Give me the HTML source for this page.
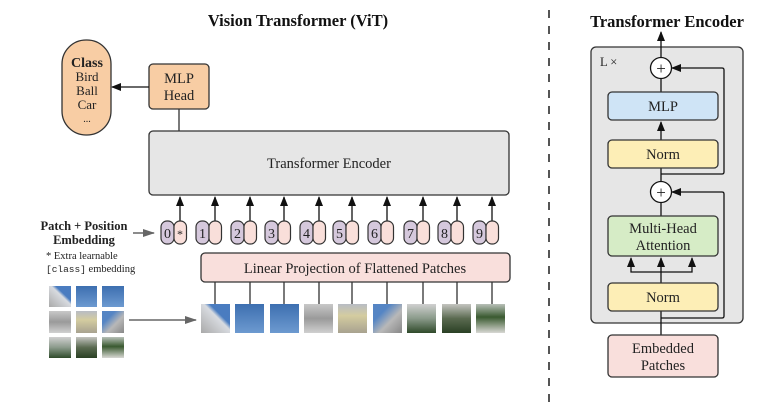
<!DOCTYPE html>
<html><head><meta charset="utf-8"><style>
html,body{margin:0;padding:0;background:#fff}
svg{display:block}
text{font-family:"Liberation Serif",serif;fill:#222}
</style></head><body>
<svg width="759" height="415" viewBox="0 0 759 415" xmlns="http://www.w3.org/2000/svg">
<defs>
<marker id="a" markerWidth="10" markerHeight="8" refX="9" refY="4" orient="auto" markerUnits="userSpaceOnUse" viewBox="0 0 10 8"><path d="M0,0 L10,4 L0,8 Z" fill="#111"/></marker>
<marker id="ar" markerWidth="10" markerHeight="8" refX="9" refY="4" orient="auto" markerUnits="userSpaceOnUse" viewBox="0 0 10 8"><path d="M0,0 L10,4 L0,8 Z" fill="#111"/></marker>
<marker id="ag" markerWidth="12" markerHeight="8" refX="11" refY="4" orient="auto" markerUnits="userSpaceOnUse" viewBox="0 0 12 8"><path d="M0,0 L12,4 L0,8 Z" fill="#666"/></marker>
<linearGradient id="sky" x1="0" y1="0" x2="0" y2="1"><stop offset="0" stop-color="#3d6fb0"/><stop offset="1" stop-color="#6d9ad0"/></linearGradient>
<linearGradient id="b1" x1="1" y1="0" x2="0" y2="1"><stop offset="0.35" stop-color="#4a7cc0"/><stop offset="0.45" stop-color="#d8dbe0"/><stop offset="1" stop-color="#a9a9a9"/></linearGradient>
<linearGradient id="gr" x1="0" y1="0" x2="0" y2="1"><stop offset="0" stop-color="#c8c8c8"/><stop offset="0.5" stop-color="#9a9a9a"/><stop offset="1" stop-color="#d0d0d0"/></linearGradient>
<linearGradient id="ye" x1="0" y1="0" x2="0" y2="1"><stop offset="0" stop-color="#b8bcc4"/><stop offset="0.4" stop-color="#d4cca0"/><stop offset="1" stop-color="#a8a290"/></linearGradient>
<linearGradient id="tw" x1="0" y1="0" x2="1" y2="1"><stop offset="0.3" stop-color="#5585c4"/><stop offset="0.6" stop-color="#b8b8b8"/><stop offset="1" stop-color="#888"/></linearGradient>
<linearGradient id="g1" x1="0" y1="0" x2="0" y2="1"><stop offset="0" stop-color="#d0d0d0"/><stop offset="0.5" stop-color="#8a9a8a"/><stop offset="1" stop-color="#2f4a2a"/></linearGradient>
<linearGradient id="g2" x1="0" y1="0" x2="0" y2="1"><stop offset="0" stop-color="#c4c4c0"/><stop offset="0.5" stop-color="#5a6a50"/><stop offset="1" stop-color="#2a4024"/></linearGradient>
<linearGradient id="g3" x1="0" y1="0" x2="0" y2="1"><stop offset="0" stop-color="#b8c0b8"/><stop offset="0.45" stop-color="#3a5a30"/><stop offset="1" stop-color="#d8d8d4"/></linearGradient>
</defs>

<text x="298" y="26" font-size="16.5" font-weight="bold" text-anchor="middle" style="fill:#111">Vision Transformer (ViT)</text>
<text x="667" y="27" font-size="16.5" font-weight="bold" text-anchor="middle" style="fill:#111">Transformer Encoder</text>

<line x1="549" y1="10" x2="549" y2="402" stroke="#555" stroke-width="2" stroke-dasharray="8,8"/>

<rect x="62" y="40" width="49" height="95" rx="24" fill="#f8cda4" stroke="#333" stroke-width="1.3"/>
<text x="87" y="67" font-size="14" font-weight="bold" text-anchor="middle">Class</text>
<text x="87" y="81" font-size="13" text-anchor="middle">Bird</text>
<text x="87" y="95" font-size="13" text-anchor="middle">Ball</text>
<text x="87" y="109" font-size="13" text-anchor="middle">Car</text>
<text x="87" y="122" font-size="10" text-anchor="middle">...</text>

<rect x="149" y="64" width="60" height="45" rx="4" fill="#f8cda4" stroke="#333" stroke-width="1.3"/>
<text x="179" y="83" font-size="14.5" text-anchor="middle">MLP</text>
<text x="179" y="100" font-size="14.5" text-anchor="middle">Head</text>
<line x1="149" y1="87" x2="112" y2="87" stroke="#111" stroke-width="1.3" marker-end="url(#ar)"/>
<line x1="179" y1="109" x2="179" y2="131" stroke="#333" stroke-width="1.3"/>

<rect x="149" y="131" width="360" height="64" rx="4" fill="#e6e6e6" stroke="#333" stroke-width="1.3"/>
<text x="329" y="168" font-size="14.5" text-anchor="middle">Transformer Encoder</text>

<g stroke="#111" stroke-width="1.3">
<line x1="180" y1="221" x2="180" y2="197" marker-end="url(#a)"/>
<line x1="215" y1="221" x2="215" y2="197" marker-end="url(#a)"/>
<line x1="250" y1="221" x2="250" y2="197" marker-end="url(#a)"/>
<line x1="284" y1="221" x2="284" y2="197" marker-end="url(#a)"/>
<line x1="319" y1="221" x2="319" y2="197" marker-end="url(#a)"/>
<line x1="352" y1="221" x2="352" y2="197" marker-end="url(#a)"/>
<line x1="387" y1="221" x2="387" y2="197" marker-end="url(#a)"/>
<line x1="423" y1="221" x2="423" y2="197" marker-end="url(#a)"/>
<line x1="457" y1="221" x2="457" y2="197" marker-end="url(#a)"/>
<line x1="492" y1="221" x2="492" y2="197" marker-end="url(#a)"/>
</g>

<g stroke="#333" stroke-width="1.2">
<rect x="161" y="221" width="13" height="23" rx="6" fill="#d5c8dc"/><rect x="174" y="221" width="12.5" height="23" rx="6" fill="#f9dfda"/>
<rect x="196" y="221" width="13" height="23" rx="6" fill="#d5c8dc"/><rect x="209" y="221" width="12.5" height="23" rx="6" fill="#f9dfda"/>
<rect x="231" y="221" width="13" height="23" rx="6" fill="#d5c8dc"/><rect x="244" y="221" width="12.5" height="23" rx="6" fill="#f9dfda"/>
<rect x="265" y="221" width="13" height="23" rx="6" fill="#d5c8dc"/><rect x="278" y="221" width="12.5" height="23" rx="6" fill="#f9dfda"/>
<rect x="300" y="221" width="13" height="23" rx="6" fill="#d5c8dc"/><rect x="313" y="221" width="12.5" height="23" rx="6" fill="#f9dfda"/>
<rect x="333" y="221" width="13" height="23" rx="6" fill="#d5c8dc"/><rect x="346" y="221" width="12.5" height="23" rx="6" fill="#f9dfda"/>
<rect x="368" y="221" width="13" height="23" rx="6" fill="#d5c8dc"/><rect x="381" y="221" width="12.5" height="23" rx="6" fill="#f9dfda"/>
<rect x="404" y="221" width="13" height="23" rx="6" fill="#d5c8dc"/><rect x="417" y="221" width="12.5" height="23" rx="6" fill="#f9dfda"/>
<rect x="438" y="221" width="13" height="23" rx="6" fill="#d5c8dc"/><rect x="451" y="221" width="12.5" height="23" rx="6" fill="#f9dfda"/>
<rect x="473" y="221" width="13" height="23" rx="6" fill="#d5c8dc"/><rect x="486" y="221" width="12.5" height="23" rx="6" fill="#f9dfda"/>
</g>
<g font-size="14" text-anchor="middle">
<text x="167.5" y="238">0</text><text x="180" y="238" font-size="12">*</text>
<text x="202.5" y="238">1</text><text x="237.5" y="238">2</text><text x="271.5" y="238">3</text>
<text x="306.5" y="238">4</text><text x="339.5" y="238">5</text><text x="374.5" y="238">6</text>
<text x="410.5" y="238">7</text><text x="444.5" y="238">8</text><text x="479.5" y="238">9</text>
</g>

<text x="84" y="230" font-size="12.5" font-weight="bold" text-anchor="middle">Patch + Position</text>
<text x="84" y="244" font-size="12.5" font-weight="bold" text-anchor="middle">Embedding</text>
<line x1="133" y1="233" x2="154" y2="233" stroke="#666" stroke-width="1.5" marker-end="url(#ag)"/>
<text x="46" y="259" font-size="10.5">* Extra learnable</text>
<text x="46" y="272" font-size="10.5"><tspan font-family="Liberation Mono, monospace" font-size="9.5">[class]</tspan> embedding</text>

<rect x="201" y="253" width="309" height="29" rx="4" fill="#f9dfdc" stroke="#333" stroke-width="1.3"/>
<text x="355" y="273" font-size="14.5" text-anchor="middle">Linear Projection of Flattened Patches</text>
<g stroke="#333" stroke-width="1.3">
<line x1="215" y1="282" x2="215" y2="304"/><line x1="250" y1="282" x2="250" y2="304"/>
<line x1="284" y1="282" x2="284" y2="304"/><line x1="319" y1="282" x2="319" y2="304"/>
<line x1="352" y1="282" x2="352" y2="304"/><line x1="387" y1="282" x2="387" y2="304"/>
<line x1="423" y1="282" x2="423" y2="304"/><line x1="457" y1="282" x2="457" y2="304"/>
<line x1="492" y1="282" x2="492" y2="304"/>
</g>

<g>
<rect x="201" y="304" width="29" height="29" fill="url(#b1)"/>
<rect x="235" y="304" width="29" height="29" fill="url(#sky)"/>
<rect x="270" y="304" width="29" height="29" fill="url(#sky)"/>
<rect x="304" y="304" width="29" height="29" fill="url(#gr)"/>
<rect x="338" y="304" width="29" height="29" fill="url(#ye)"/>
<rect x="373" y="304" width="29" height="29" fill="url(#tw)"/>
<rect x="407" y="304" width="29" height="29" fill="url(#g1)"/>
<rect x="442" y="304" width="29" height="29" fill="url(#g2)"/>
<rect x="476" y="304" width="29" height="29" fill="url(#g3)"/>
</g>

<g>
<rect x="49" y="286" width="22" height="21" fill="url(#b1)"/>
<rect x="76" y="286" width="21" height="21" fill="url(#sky)"/>
<rect x="102" y="286" width="22" height="21" fill="url(#sky)"/>
<rect x="49" y="311" width="22" height="22" fill="url(#gr)"/>
<rect x="76" y="311" width="21" height="22" fill="url(#ye)"/>
<rect x="102" y="311" width="22" height="22" fill="url(#tw)"/>
<rect x="49" y="337" width="22" height="21" fill="url(#g1)"/>
<rect x="76" y="337" width="21" height="21" fill="url(#g2)"/>
<rect x="102" y="337" width="22" height="21" fill="url(#g3)"/>
</g>
<line x1="129" y1="320" x2="196" y2="320" stroke="#666" stroke-width="1.5" marker-end="url(#ag)"/>

<rect x="591" y="47" width="152" height="276" rx="5" fill="#e6e6e6" stroke="#333" stroke-width="1.3"/>
<text x="600" y="66" font-size="12.5">L ×</text>
<line x1="661" y1="58" x2="661" y2="32" stroke="#111" stroke-width="1.3" marker-end="url(#a)"/>

<g stroke="#111" stroke-width="1.3" fill="none">
<path d="M661,174 H722 Q724,174 724,172 V70 Q724,68 722,68 H672" marker-end="url(#ar)"/>
<path d="M661,318 H722 Q724,318 724,316 V194 Q724,192 722,192 H672" marker-end="url(#ar)"/>
<line x1="661" y1="335" x2="661" y2="311"/>
<line x1="661" y1="283" x2="661" y2="258" marker-end="url(#a)"/>
<path d="M661,272 H631 V258" marker-end="url(#a)"/>
<path d="M661,272 H692 V258" marker-end="url(#a)"/>
<line x1="661" y1="216" x2="661" y2="202"/>
<line x1="661" y1="182" x2="661" y2="168"/>
<line x1="661" y1="140" x2="661" y2="122" marker-end="url(#a)"/>
<line x1="661" y1="92" x2="661" y2="78"/>
</g>
<circle cx="661" cy="68" r="10.5" fill="#fff" stroke="#111" stroke-width="1.3"/>
<text x="661" y="74" font-size="17" text-anchor="middle">+</text>
<circle cx="661" cy="192" r="10.5" fill="#fff" stroke="#111" stroke-width="1.3"/>
<text x="661" y="198" font-size="17" text-anchor="middle">+</text>

<rect x="608" y="92" width="110" height="28" rx="4" fill="#cfe4f6" stroke="#333" stroke-width="1.3"/>
<text x="663" y="111" font-size="14.5" text-anchor="middle">MLP</text>
<rect x="608" y="140" width="110" height="28" rx="4" fill="#fdeeb6" stroke="#333" stroke-width="1.3"/>
<text x="663" y="159" font-size="14.5" text-anchor="middle">Norm</text>
<rect x="608" y="216" width="110" height="40" rx="4" fill="#d6ecc6" stroke="#333" stroke-width="1.3"/>
<text x="663" y="233" font-size="14.5" text-anchor="middle">Multi-Head</text>
<text x="663" y="250" font-size="14.5" text-anchor="middle">Attention</text>
<rect x="608" y="283" width="110" height="28" rx="4" fill="#fdeeb6" stroke="#333" stroke-width="1.3"/>
<text x="663" y="302" font-size="14.5" text-anchor="middle">Norm</text>
<rect x="608" y="335" width="110" height="42" rx="4" fill="#f9dfdc" stroke="#333" stroke-width="1.3"/>
<text x="663" y="353" font-size="14.5" text-anchor="middle">Embedded</text>
<text x="663" y="370" font-size="14.5" text-anchor="middle">Patches</text>
</svg>
</body></html>
